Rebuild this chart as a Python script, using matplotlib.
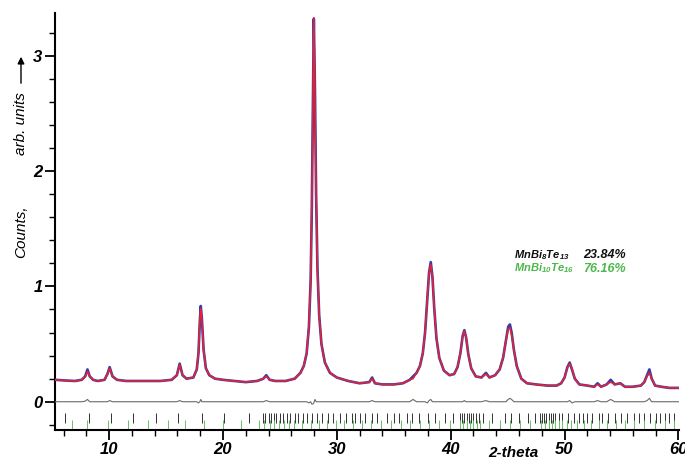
import numpy as np
import matplotlib
matplotlib.use("Agg")
import matplotlib.pyplot as plt

# ---- data ----
two_theta = [5.3, 6.0, 7.0, 7.6, 7.9, 8.1, 8.3, 8.6, 9.0, 9.6, 9.85, 10.05, 10.3, 10.7,
             11.5, 12.5, 13.5, 14.5, 15.5, 15.95, 16.2, 16.45, 16.8, 17.4, 17.7, 17.85,
             17.97, 18.05, 18.15, 18.3, 18.5, 18.8, 19.3, 20.0, 21.0, 22.0, 23.0, 23.55,
             23.8, 24.1, 24.6, 25.5, 26.3, 26.8, 27.1, 27.35, 27.55, 27.7, 27.8, 27.9,
             27.98, 28.08, 28.18, 28.3, 28.45, 28.65, 28.95, 29.4, 30.0, 31.0, 32.0, 32.85,
             33.1, 33.35, 34.0, 35.0, 35.8, 36.4, 36.7, 37.0, 37.3, 37.55, 37.75, 37.95,
             38.1, 38.25, 38.4, 38.55, 38.75, 39.0, 39.4, 39.9, 40.3, 40.6, 40.85, 41.05,
             41.2, 41.35, 41.55, 41.8, 42.2, 42.7, 43.1, 43.4, 43.9, 44.3, 44.6, 44.85,
             45.05, 45.2, 45.35, 45.55, 45.8, 46.2, 46.7, 47.5, 48.5, 49.3, 49.7, 50.0,
             50.25, 50.45, 50.65, 50.9, 51.3, 52.0, 52.6, 52.9, 53.2, 53.7, 54.05, 54.4,
             54.9, 55.3, 56.0, 56.7, 57.0, 57.25, 57.45, 57.65, 57.95, 58.5, 59.2, 60.0]
observed = [0.19, 0.185, 0.18, 0.19, 0.22, 0.28, 0.22, 0.19, 0.18, 0.19, 0.24, 0.30, 0.22, 0.19,
            0.18, 0.18, 0.18, 0.18, 0.19, 0.23, 0.33, 0.23, 0.20, 0.21, 0.28, 0.42,
            0.70, 0.83, 0.72, 0.45, 0.29, 0.23, 0.20, 0.19, 0.18, 0.17, 0.18, 0.20,
            0.23, 0.19, 0.18, 0.18, 0.20, 0.25, 0.31, 0.42, 0.65, 1.05, 1.65, 2.60,
            3.32, 2.70, 1.80, 1.15, 0.75, 0.50, 0.34, 0.25, 0.21, 0.18, 0.16, 0.17,
            0.21, 0.16, 0.15, 0.15, 0.16, 0.19, 0.22, 0.25, 0.31, 0.42, 0.60, 0.90,
            1.12, 1.21, 1.08, 0.82, 0.55, 0.38, 0.27, 0.23, 0.24, 0.30, 0.42, 0.57,
            0.62, 0.56, 0.41, 0.29, 0.22, 0.21, 0.25, 0.21, 0.23, 0.28, 0.38, 0.53,
            0.65, 0.67, 0.60, 0.45, 0.31, 0.20, 0.16, 0.15, 0.14, 0.14, 0.16, 0.21,
            0.30, 0.34, 0.28, 0.20, 0.15, 0.14, 0.13, 0.16, 0.13, 0.15, 0.19, 0.15,
            0.16, 0.13, 0.13, 0.14, 0.17, 0.23, 0.28, 0.20, 0.14, 0.13, 0.12, 0.12]
calculated = [0.19, 0.185, 0.18, 0.19, 0.215, 0.26, 0.22, 0.19, 0.18, 0.19, 0.24, 0.29, 0.22, 0.19,
              0.18, 0.18, 0.18, 0.18, 0.19, 0.23, 0.32, 0.23, 0.20, 0.21, 0.28, 0.43,
              0.70, 0.81, 0.72, 0.45, 0.29, 0.23, 0.20, 0.19, 0.18, 0.17, 0.18, 0.20,
              0.22, 0.19, 0.18, 0.18, 0.20, 0.25, 0.31, 0.42, 0.66, 1.05, 1.67, 2.62,
              3.33, 2.68, 1.80, 1.15, 0.75, 0.50, 0.34, 0.25, 0.21, 0.18, 0.16, 0.17,
              0.20, 0.16, 0.15, 0.15, 0.16, 0.19, 0.20, 0.25, 0.31, 0.42, 0.60, 0.91,
              1.11, 1.19, 1.08, 0.82, 0.55, 0.38, 0.27, 0.23, 0.24, 0.30, 0.42, 0.57,
              0.61, 0.56, 0.41, 0.29, 0.22, 0.21, 0.24, 0.21, 0.23, 0.28, 0.38, 0.53,
              0.63, 0.64, 0.58, 0.45, 0.31, 0.20, 0.16, 0.15, 0.14, 0.14, 0.16, 0.21,
              0.30, 0.33, 0.29, 0.20, 0.15, 0.14, 0.13, 0.15, 0.13, 0.15, 0.17, 0.15,
              0.16, 0.13, 0.13, 0.14, 0.17, 0.22, 0.25, 0.20, 0.14, 0.13, 0.12, 0.12]

bragg_mnbi8te13 = [6.15, 8.2, 10.2, 12.1, 14.1, 16.05, 18.15, 20.1, 22.3,
                   23.5, 23.7, 24.0, 24.2, 24.5, 24.7, 25.0, 25.3, 25.6, 25.9, 26.3, 26.6,
                   27.0, 27.4, 27.8, 28.3, 28.7, 29.2, 29.7, 30.3, 30.8, 31.3, 31.6, 32.0,
                   32.5, 33.1, 33.5, 34.4, 35.0, 35.5, 36.2, 36.6, 37.2, 38.0, 38.6, 39.5,
                   40.2, 40.8, 41.0, 41.2, 41.4, 41.6, 41.8, 42.0, 42.2, 42.5, 42.8, 43.6,
                   44.8, 45.3, 46.0, 46.8, 47.4, 47.8, 48.0, 48.2, 48.4, 48.6, 48.8, 49.0,
                   49.2, 49.5, 49.8, 50.3, 50.8, 51.3, 51.6, 52.0, 52.4, 53.0, 53.3, 53.8,
                   54.4, 55.0, 55.5, 56.1, 56.5, 57.0, 57.5, 58.0, 58.4, 58.8, 59.2, 59.6]
bragg_mnbi10te16 = [6.7, 8.1, 9.9, 11.7, 13.4, 15.2, 16.7, 18.3, 20.0, 21.6,
                    23.2, 23.6, 24.1, 24.5, 24.9, 25.4, 25.8, 26.2, 26.9, 27.7, 28.4,
                    29.1, 29.9, 30.6, 31.4, 32.2, 33.0, 33.9, 34.8, 35.6, 36.4, 37.3,
                    38.1, 39.0, 39.9, 40.8, 41.1, 41.4, 41.7, 42.0, 42.3, 42.6, 43.4,
                    44.3, 45.2, 46.1, 47.0, 47.9, 48.3, 48.6, 48.9, 49.2, 49.5, 49.8,
                    50.2, 50.6, 51.1, 51.7, 52.3, 53.0, 53.7, 54.5, 55.3, 56.1, 57.0,
                    57.9, 58.8, 59.6]

phases = ["MnBi$_8$Te$_{13}$", "MnBi$_{10}$Te$_{16}$"]
fractions = ["23.84%", "76.16%"]
phase_colors = ['#111111', '#4cb84c']

# ---- plot ----
plt.rcParams['font.family'] = ['Liberation Sans', 'DejaVu Sans']
plt.rcParams['mathtext.fontset'] = 'custom'
plt.rcParams['mathtext.rm'] = 'Liberation Sans:bold:italic'
plt.rcParams['mathtext.it'] = 'Liberation Sans:bold:italic'
plt.rcParams['mathtext.bf'] = 'Liberation Sans:bold:italic'

fig = plt.figure(figsize=(6.85, 4.57), dpi=100)
ax = fig.add_axes([55/685, (457-430)/457, (679-55)/685, (430-13)/457])

x = np.array(two_theta)
obs = np.array(observed)
calc = np.array(calculated)

ax.plot(x, obs, color='#3b3ba8', lw=1.9, zorder=3)
ax.plot(x, calc, color='#e8232f', lw=1.1, zorder=4)
ax.plot(x, obs - calc, color='#6a6a6a', lw=0.8, zorder=3)

ax.vlines(bragg_mnbi8te13, -0.18, -0.095, color='#333333', lw=0.7)
ax.vlines(bragg_mnbi10te16, -0.235, -0.16, color='#66c466', lw=0.7)

ax.set_xlim(5.25, 60.05)
ax.set_ylim(-0.245, 3.37)

for s in ['top', 'right']:
    ax.spines[s].set_visible(False)
for s in ['left', 'bottom']:
    ax.spines[s].set_linewidth(1.5)

ax.set_xticks([10, 20, 30, 40, 50, 60])
ax.set_xticks(np.arange(6, 61, 2), minor=True)
ax.set_yticks([0, 1, 2, 3])
ax.set_yticks(np.arange(-0.2, 3.3, 0.2), minor=True)
ax.tick_params(which='major', direction='out', length=7, width=1.3, labelsize=12)
ax.tick_params(which='minor', direction='out', length=4.5, width=1.0)
for lab in ax.get_xticklabels() + ax.get_yticklabels():
    lab.set_fontweight('bold')
    lab.set_fontstyle('italic')
ax.tick_params(axis='y', pad=2)
ax.tick_params(axis='x', pad=2)

# phase fractions
for i, (ph, fr, col) in enumerate(zip(phases, fractions, phase_colors)):
    yv = 1.27 - 0.115 * i
    ax.text(45.6, yv, ph, color=col, fontsize=8, fontweight='bold',
            fontstyle='italic', va='center', ha='left')
    ax.text(51.65, yv, fr, color=col, fontsize=9, fontweight='bold',
            fontstyle='italic', va='center', ha='left')

# axis labels
fig.text(513/685, 1 - 446/457, "2-theta", fontsize=11, fontweight='bold',
         fontstyle='italic', ha='center', va='top')
fig.text(21/685, 1 - 232/457, "Counts,", fontsize=11, fontstyle='italic',
         rotation=90, ha='center', va='center')
fig.text(21/685, 1 - 124/457, "arb. units", fontsize=11, fontstyle='italic',
         rotation=90, ha='center', va='center')
fig.patches.append(matplotlib.patches.FancyArrowPatch(
    (21/685, 1 - 86/457), (21/685, 1 - 54/457), transform=fig.transFigure,
    arrowstyle='-|>,head_length=4,head_width=2', mutation_scale=1, color='black', lw=1.0))

fig.savefig("out.png", dpi=100)
